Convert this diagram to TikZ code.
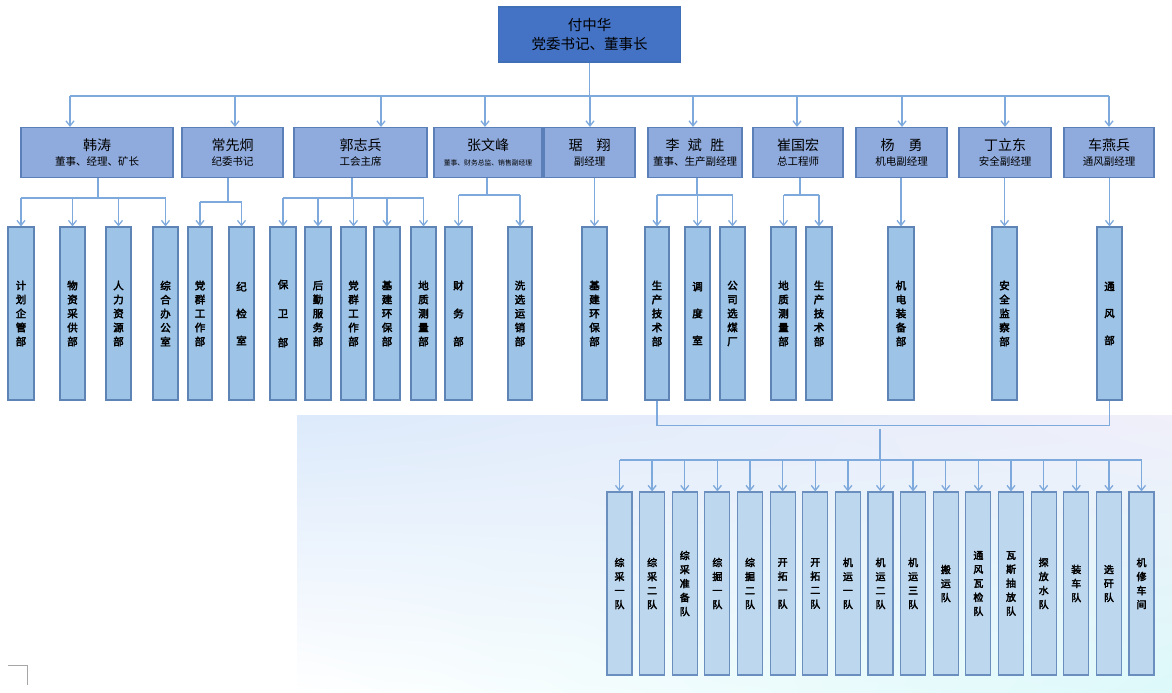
\documentclass[tikz,border=0pt]{standalone}
\usepackage{fontspec}
\setmainfont{Noto Sans CJK SC}[AutoFakeBold=3]
\usetikzlibrary{calc}
\usetikzlibrary{arrows.meta}
\usetikzlibrary{shadings}
\definecolor{chiefblue}{HTML}{4472C4}
\definecolor{chiefedge}{HTML}{3F6FB6}
\definecolor{leaderblue}{HTML}{8FAADC}
\definecolor{leaderedge}{HTML}{5B7FB8}
\definecolor{deptblue}{HTML}{9DC3E6}
\definecolor{deptedge}{HTML}{5E84B6}
\definecolor{teamblue}{HTML}{BDD7EE}
\definecolor{teamedge}{HTML}{6A8EBD}
\definecolor{wireblue}{HTML}{7EA9DC}
\definecolor{washA}{HTML}{DCEAFB}
\definecolor{washB}{HTML}{F0EFFA}
\definecolor{washC}{HTML}{DDF9FA}
\tikzstyle{chiefbox}=[draw=chiefedge, fill=chiefblue, line width=1.2pt, minimum width=182pt, minimum height=55pt, align=center, inner sep=0pt]
\tikzstyle{leaderbox}=[draw=leaderedge, fill=leaderblue, line width=1.2pt, minimum height=50pt, align=center, inner sep=0pt]
\tikzstyle{deptbox}=[draw=deptedge, fill=deptblue, line width=1.2pt, minimum height=173pt, align=center, inner sep=0pt]
\tikzstyle{teambox}=[draw=teamedge, fill=teamblue, line width=1.2pt, minimum width=25pt, minimum height=183pt, align=center, inner sep=0pt]
\tikzstyle{wire}=[draw=wireblue, line width=1.3pt]
\tikzstyle{wirearrow}=[wire, -{Straight Barb[length=5pt,width=8pt]}]
\newcommand{\newleader}[6][10.5]{ % [title size] {name} {left} {right} {person} {title}
\pgfmathsetmacro{\boxx}{(#3+#4)/2}
\pgfmathsetmacro{\boxw}{#4-#3}
\node[leaderbox, minimum width=\boxw pt] (#2) at (\boxx,152.5)
  {{\fontsize{14}{16}\selectfont #5}\\[3pt]{\fontsize{#1}{12}\selectfont #6}};
}
\newcommand{\newdept}[5][14]{ % [line pitch] {name} {left} {right} {stacked text}
\pgfmathsetmacro{\barx}{(#3+#4)/2}
\pgfmathsetmacro{\barw}{#4-#3}
\node[deptbox, minimum width=\barw pt, font=\bfseries\fontsize{10.5}{#1}\selectfont] (#2) at (\barx,313.5) {#5};
}

\begin{document}
\begin{tikzpicture}[x=1pt, y=-1pt]
  \useasboundingbox (0,0) rectangle (1172,693);
  \fill[white] (0,0) rectangle (1172,693);
  \shade[upper left=washA, upper right=washB, lower left=white, lower right=washC] (297,415) rectangle (1172,693);
  \draw[gray!70, line width=0.6pt] (8,665) -- (27,665) -- (27,685);

  % top
  \node[chiefbox] (chief) at (589.5,34.5) {\fontsize{14.5}{17}\selectfont 付中华\\[4pt]\fontsize{14.5}{17}\selectfont 党委书记、董事长};

  % leaders
  \newleader{han}{21}{173}{韩涛}{董事、经理、矿长}
  \newleader{chang}{182}{283}{常先炯}{纪委书记}
  \newleader{guo}{294}{427}{郭志兵}{工会主席}
  \newleader[6.8]{zhang}{434}{542}{张文峰}{董事、财务总监、销售副经理}
  \newleader{ju}{544}{635}{琚\quad 翔}{副经理}
  \newleader{li}{648}{742}{李\hspace{0.6em}斌\hspace{0.6em}胜}{董事、生产副经理}
  \newleader{cui}{753}{843}{崔国宏}{总工程师}
  \newleader{yang}{856}{947}{杨\quad 勇}{机电副经理}
  \newleader{ding}{959}{1051}{丁立东}{安全副经理}
  \newleader{che}{1064}{1154}{车燕兵}{通风副经理}

  % departments
  \newdept{jihua}{8}{34}{计\\划\\企\\管\\部}
  \newdept{wuzi}{60}{85}{物\\资\\采\\供\\部}
  \newdept{renli}{106}{131}{人\\力\\资\\源\\部}
  \newdept{zonghe}{153}{178}{综\\合\\办\\公\\室}
  \newdept{dangqunA}{188}{212}{党\\群\\工\\作\\部}
  \newdept[27]{jijian}{229}{254}{纪\\检\\室}
  \newdept[29]{baowei}{270}{296}{保\\卫\\部}
  \newdept{houqin}{305}{331}{后\\勤\\服\\务\\部}
  \newdept{dangqunB}{341}{366}{党\\群\\工\\作\\部}
  \newdept{huanbaoA}{374}{400}{基\\建\\环\\保\\部}
  \newdept{dizhiA}{411}{436}{地\\质\\测\\量\\部}
  \newdept[28]{caiwu}{445}{472}{财\\务\\部}
  \newdept{xiaoshou}{508}{532}{洗\\选\\运\\销\\部}
  \newdept{huanbaoB}{582}{607}{基\\建\\环\\保\\部}
  \newdept{shengchanA}{645}{669}{生\\产\\技\\术\\部}
  \newdept[27]{diaodu}{685}{710}{调\\度\\室}
  \newdept{xuanmei}{720}{745}{公\\司\\选\\煤\\厂}
  \newdept{dizhiB}{771}{796}{地\\质\\测\\量\\部}
  \newdept{shengchanB}{806}{832}{生\\产\\技\\术\\部}
  \newdept{jidian}{888}{914}{机\\电\\装\\备\\部}
  \newdept{anquan}{992}{1017}{安\\全\\监\\察\\部}
  \newdept[27]{tongfeng}{1097}{1122}{通\\风\\部}

  % teams
  \foreach \t [count=\k] in {综\\采\\一\\队, 综\\采\\二\\队, 综\\采\\准\\备\\队, 综\\掘\\一\\队, 综\\掘\\二\\队,
      开\\拓\\一\\队, 开\\拓\\二\\队, 机\\运\\一\\队, 机\\运\\二\\队, 机\\运\\三\\队, 搬\\运\\队,
      通\\风\\瓦\\检\\队, 瓦\\斯\\抽\\放\\队, 探\\放\\水\\队, 装\\车\\队, 选\\矸\\队, 机\\修\\车\\间} {
    \pgfmathsetmacro{\tx}{619.5+(\k-1)*32.625}
    \node[teambox, font=\bfseries\fontsize{10}{14}\selectfont] (team\k) at (\tx,583.5) {\t};
  }

  % chief to leaders
  \coordinate (topbus) at (589.5,96);
  \draw[wire] (chief.south) -- (topbus);
  \draw[wire] (topbus -| 70,0) -- (topbus -| 1109,0);
  \foreach \n/\x in {han/70, chang/235, guo/381, zhang/485, ju/590, li/693, cui/797, yang/902, ding/1005, che/1109}
    \draw[wirearrow] (topbus -| \x,0) -- (\n.north -| \x,0);

  % leaders to departments
  \draw[wire] (han.south -| 98,0) -- ++(0,20) coordinate (hanbus);
  \draw[wire] (jihua.north |- hanbus) -- (zonghe.north |- hanbus);
  \foreach \d in {jihua, wuzi, renli, zonghe} \draw[wirearrow] (\d.north |- hanbus) -- (\d.north);

  \draw[wire] (chang.south -| 228,0) -- ++(0,24) coordinate (changbus);
  \draw[wire] (dangqunA.north |- changbus) -- (jijian.north |- changbus);
  \foreach \d in {dangqunA, jijian} \draw[wirearrow] (\d.north |- changbus) -- (\d.north);

  \draw[wire] (guo.south -| 352,0) -- ++(0,20) coordinate (guobus);
  \draw[wire] (baowei.north |- guobus) -- (dizhiA.north |- guobus);
  \foreach \d in {baowei, houqin, dangqunB, huanbaoA, dizhiA} \draw[wirearrow] (\d.north |- guobus) -- (\d.north);

  \draw[wire] (zhang.south -| 487,0) -- ++(0,17) coordinate (zhangbus);
  \draw[wire] (caiwu.north |- zhangbus) -- (xiaoshou.north |- zhangbus);
  \foreach \d in {caiwu, xiaoshou} \draw[wirearrow] (\d.north |- zhangbus) -- (\d.north);

  \draw[wire] (li.south -| 697,0) -- ++(0,17) coordinate (libus);
  \draw[wire] (shengchanA.north |- libus) -- (xuanmei.north |- libus);
  \foreach \d in {shengchanA, diaodu, xuanmei} \draw[wirearrow] (\d.north |- libus) -- (\d.north);

  \draw[wire] (cui.south -| 800,0) -- ++(0,17) coordinate (cuibus);
  \draw[wire] (dizhiB.north |- cuibus) -- (shengchanB.north |- cuibus);
  \foreach \d in {dizhiB, shengchanB} \draw[wirearrow] (\d.north |- cuibus) -- (\d.north);

  \draw[wirearrow] (ju.south -| huanbaoB.north) -- (huanbaoB.north);
  \draw[wirearrow] (yang.south -| jidian.north) -- (jidian.north);
  \draw[wirearrow] (ding.south -| anquan.north) -- (anquan.north);
  \draw[wirearrow] (che.south -| tongfeng.north) -- (tongfeng.north);

  % departments to teams
  \draw[wire] (shengchanA.south) -- ++(0,25) coordinate (loopbus) -- (loopbus -| tongfeng.south) -- (tongfeng.south);
  \coordinate (midtap) at (880,429);
  \coordinate (teambus) at (880,460);
  \draw[wire] (midtap) -- (teambus);
  \draw[wire] (team1.north |- teambus) -- (team17.north |- teambus);
  \foreach \k in {1,...,17} \draw[wirearrow] (team\k.north |- teambus) -- (team\k.north);
\end{tikzpicture}
\end{document}
